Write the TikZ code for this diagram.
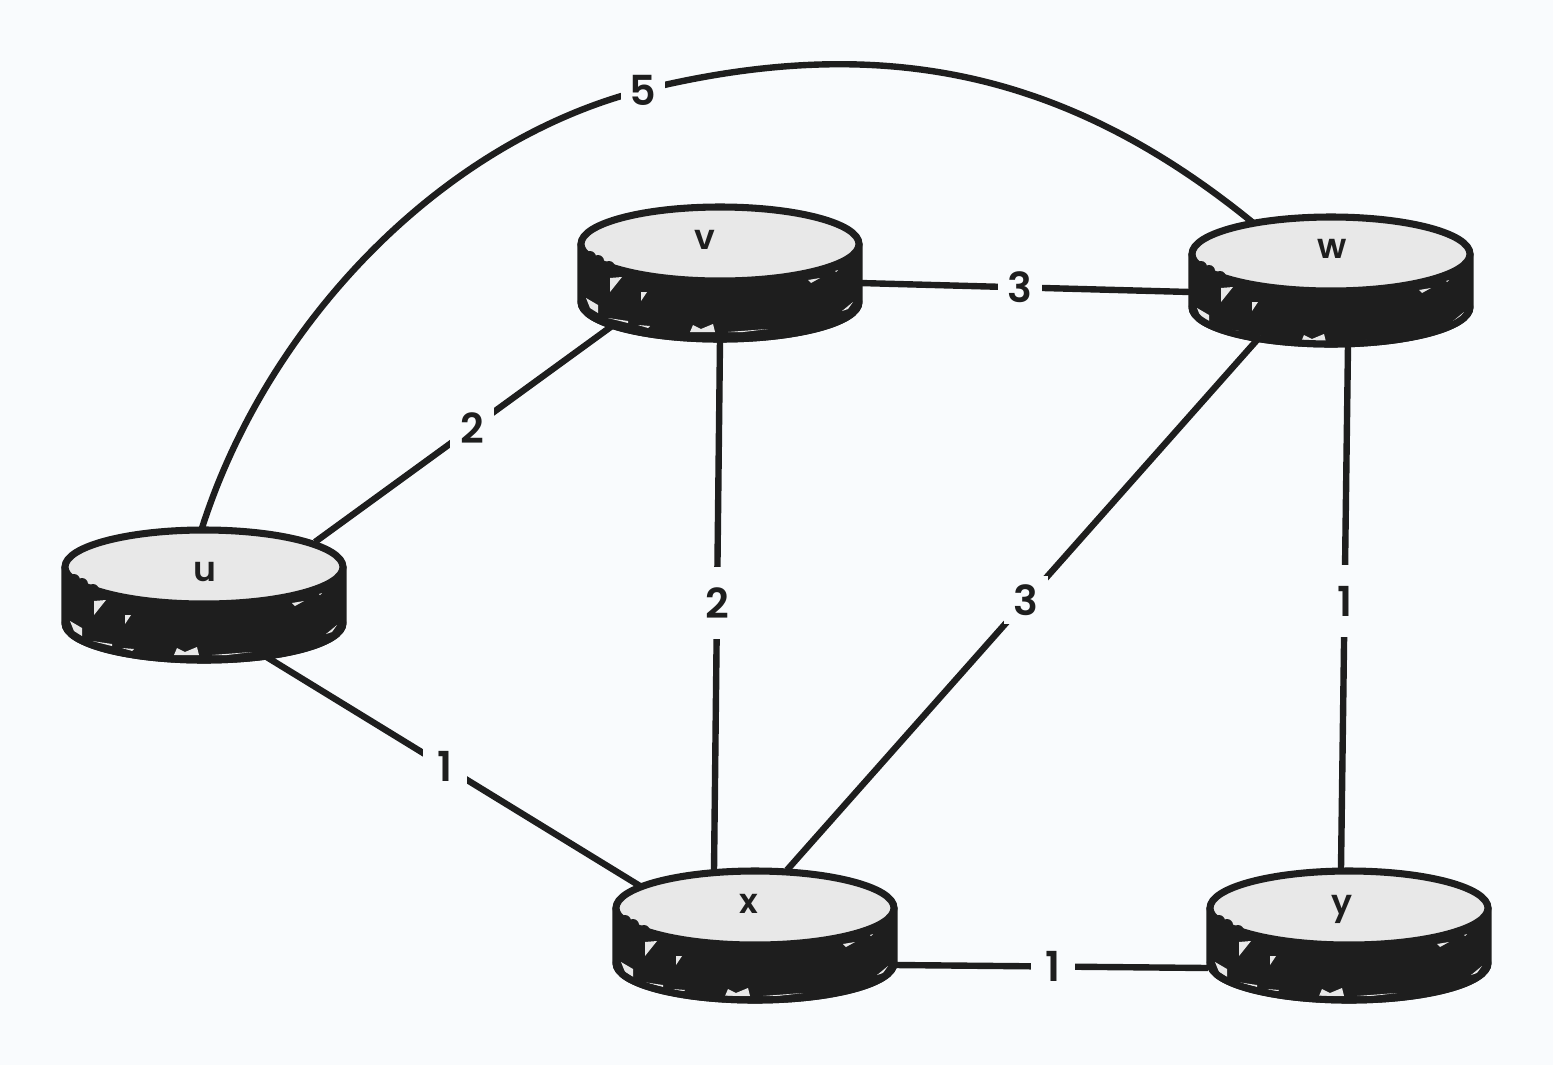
\documentclass[tikz,border=0pt]{standalone}
\usepackage{fontspec}
\usetikzlibrary{shapes.geometric}
\setmainfont{Poppins}[UprightFont=*-SemiBold]
\pgfdeclarelayer{paper}
\pgfdeclarelayer{edges}
\pgfsetlayers{paper,edges,main}
\definecolor{ink}{HTML}{1E1E1E}
\definecolor{disk}{HTML}{E8E8E8}
\definecolor{page}{HTML}{F9FBFD}
\tikzset{
  link/.style={draw=ink,line width=4.8pt},
  weight/.style={fill=page,text=ink,font=\fontsize{31}{31}\selectfont,inner sep=2pt,minimum width=33pt,minimum height=36pt},
  tallweight/.style={weight,minimum height=54pt},
  disktop/.style={ellipse,draw=ink,fill=disk,line width=5.3pt,minimum width=208.5pt,minimum height=55.5pt,inner sep=0pt},
  disklabel/.style={text=ink,font=\fontsize{26}{26}\selectfont,inner sep=0pt},
  hole/.style={fill=disk,draw=none},
}
% #1 name, #2 x, #3 y, #4 label, #5 label x, #6 label y, #7 drop of the lower rim
\newcommand{\routerdisk}[7]{%
  \begin{scope}[shift={(#2,#3)}]
    \filldraw[ink,line width=5.3pt,line join=round] (-139,0) -- (-139,#7) arc[x radius=104.25pt,y radius=27.75pt,start angle=180,end angle=360] -- (139,0) -- cycle;
    \fill[hole] (-134,54) -- (-122,61) -- (-122,69) -- (-130,64) -- cycle;
    \fill[hole] (-110,34) -- (-98,33) -- (-110,48) -- cycle;
    \fill[hole] (-79,48) -- (-73,48) -- (-79,57) -- cycle;
    \fill[hole] (-112,74) -- (-92,77) -- (-92,79) -- cycle;
    \fill[hole] (-82,81) -- (-70,82) -- (-72,84) -- cycle;
    \fill[hole] (-30,88) -- (-27,81) -- (-19,85) -- (-7,80) -- (-5,88) -- cycle;
    \fill[hole] (8,88) -- (48,85) -- (23,88) -- cycle;
    \fill[hole] (88,36) -- (100,34) -- (91,39) -- cycle;
    \fill[hole] (122,67) -- (133,58) -- (128,65) -- cycle;
    \fill[hole] (115,27) -- (118,26) -- (116,28) -- cycle;
    \draw[ink,line width=5.3pt,line cap=round] (-139,#7) arc[x radius=104.25pt,y radius=27.75pt,start angle=180,end angle=360];
  \end{scope}
  \node[disktop] (#1) at (#2,#3) {};
  \begin{scope}[shift={(#2,#3)}]
    \fill[ink] (-130,13) circle[radius=4.5pt];
    \fill[ink] (-122,17) circle[radius=4.5pt];
    \fill[ink] (-111,23) circle[radius=4.5pt];
  \end{scope}
  \node[disklabel] (#1-label) at (#5,#6) {#4};
}
\begin{document}
\begin{tikzpicture}[x=0.75pt,y=-0.75pt]
\begin{pgfonlayer}{paper}
  \fill[page] (0,0) rectangle (1553,1065);
\end{pgfonlayer}
\useasboundingbox (0,0) rectangle (1553,1065);
\routerdisk{u}{204}{567}{u}{205}{572}{56}
\routerdisk{v}{720}{244}{v}{705}{240}{58}
\routerdisk{w}{1331}{254}{w}{1332}{249}{53}
\routerdisk{x}{755}{908}{x}{749}{904}{55}
\routerdisk{y}{1349}{908}{y}{1342}{909}{55}
\node[weight] (lbl5) at (643,90) {5};
\begin{pgfonlayer}{edges}
  \draw[link] ([shift={(-2,-39)}]u.center) .. controls ([shift={(63,-243)}]u.center) and ([shift={(-202,51)}]lbl5.center) .. (lbl5.center) .. controls ([shift={(240,-59)}]lbl5.center) and ([shift={(-261,-182)}]w.center) .. ([shift={(-74,-28)}]w.center);
  \draw[link] ([shift={(111,-25)}]u.center) -- ([shift={(-108,82)}]v.center) node[weight,pos=.529] (lbl2a) {2};
  \draw[link] ([shift={(61,89)}]u.center) -- ([shift={(-115,-22)}]x.center) node[weight,pos=.48] (lbl1a) {1};
  \draw[link] ([shift={(0,96)}]v.center) -- ([shift={(-41,-38)}]x.center) node[tallweight,pos=.496] (lbl2b) {2};
  \draw[link] ([shift={(140,39)}]v.center) -- ([shift={(-141,38)}]w.center) node[weight,pos=.485] (lbl3a) {3};
  \draw[link] ([shift={(-74,86)}]w.center) -- ([shift={(32,-38)}]x.center) node[weight,pos=.491] (lbl3b) {3};
  \draw[link] ([shift={(17,91)}]w.center) -- ([shift={(-8,-40)}]y.center) node[tallweight,pos=.49] (lbl1b) {1};
  \draw[link] ([shift={(141,57)}]x.center) -- ([shift={(-141,60)}]y.center) node[weight,pos=.503] (lbl1c) {1};
\end{pgfonlayer}
\end{tikzpicture}
\end{document}
